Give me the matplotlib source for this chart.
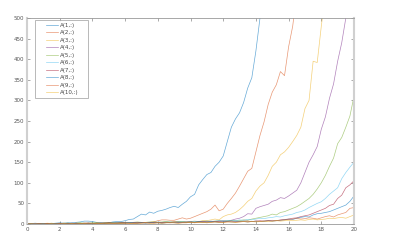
import numpy as np
import matplotlib
matplotlib.use("Agg")
import matplotlib.pyplot as plt

t = np.linspace(0, 20, 81)

A1 = [0, 1, 2, 1, 0, 1, 1, 2, 3, 2, 3, 3, 4, 5, 7, 7, 6, 4, 2, 3, 3, 5, 6, 6,
      8, 11, 12, 18, 24, 22, 29, 26, 31, 33, 36, 40, 43, 40, 48, 55, 66, 72,
      95, 108, 120, 125, 140, 150, 165, 200, 235, 255, 270, 295, 330, 355,
      420, 500, 580]
A2 = [0, 0, 1, 0, 1, 1, 0, 1, 1, 2, 1, 1, 2, 1, 2, 2, 1, 2, 3, 2, 3, 4, 3, 3,
      4, 3, 3, 4, 4, 3, 4, 5, 8, 10, 10, 9, 9, 12, 15, 12, 14, 18, 22, 26, 30,
      36, 46, 32, 36, 50, 62, 75, 92, 110, 128, 135, 175, 215, 248, 290, 320,
      338, 370, 360, 430, 480, 560]
A3 = [0, 1, 0, 1, 1, 2, 1, 1, 2, 1, 2, 1, 2, 2, 1, 2, 2, 3, 2, 2, 3, 3, 2, 3,
      4, 3, 3, 4, 4, 3, 4, 5, 4, 4, 5, 4, 5, 5, 6, 4, 5, 4, 6, 8, 8, 10, 12,
      10, 18, 22, 24, 28, 35, 44, 55, 62, 80, 92, 100, 118, 140, 150, 168,
      175, 186, 200, 215, 235, 280, 300, 395, 392, 480, 560]
A4 = [0, 0, 1, 0, 1, 1, 0, 1, 1, 0, 1, 1, 2, 1, 1, 2, 2, 1, 2, 2, 1, 2, 3, 2,
      2, 3, 3, 2, 3, 3, 4, 3, 3, 4, 4, 3, 4, 5, 4, 4, 5, 5, 6, 5, 6, 7, 6, 7,
      8, 7, 9, 12, 14, 18, 25, 24, 38, 42, 45, 48, 55, 58, 64, 62, 68, 75,
      82, 100, 125, 150, 168, 188, 230, 260, 305, 340, 395, 440, 500, 580]
A5 = [0, 1, 0, 1, 1, 1, 2, 1, 1, 2, 2, 1, 2, 3, 2, 2, 3, 3, 2, 3, 3, 4, 3, 4,
      4, 3, 4, 5, 4, 4, 5, 5, 4, 5, 6, 5, 5, 6, 6, 5, 6, 7, 6, 7, 7, 6, 7, 8,
      7, 8, 9, 8, 8, 10, 9, 12, 14, 16, 18, 20, 24, 22, 28, 30, 34, 38, 42,
      48, 55, 62, 72, 85, 100, 118, 140, 160, 195, 210, 235, 262, 310]
A6 = [0, 0, 1, 0, 1, 1, 1, 0, 1, 1, 2, 1, 1, 2, 2, 1, 2, 2, 3, 2, 2, 3, 3, 2,
      3, 4, 3, 3, 4, 4, 3, 4, 5, 4, 5, 5, 4, 5, 6, 5, 6, 6, 5, 6, 7, 6, 7, 8,
      7, 8, 9, 8, 10, 9, 11, 10, 12, 14, 13, 15, 16, 18, 17, 20, 22, 24, 28,
      30, 34, 40, 45, 50, 54, 62, 72, 80, 88, 110, 125, 138, 150]
A7 = [0, 0, 0, 1, 0, 1, 1, 0, 1, 1, 1, 2, 1, 1, 2, 2, 1, 2, 2, 2, 3, 2, 2, 3,
      3, 2, 3, 3, 4, 3, 3, 4, 4, 3, 4, 4, 5, 4, 4, 5, 5, 4, 5, 6, 5, 5, 6, 6,
      5, 6, 7, 6, 6, 7, 7, 6, 7, 8, 7, 8, 9, 8, 10, 11, 12, 14, 15, 18, 20,
      22, 26, 30, 34, 38, 45, 48, 62, 70, 88, 95, 105]
A8 = [0, 0, 0, 0, 1, 0, 1, 1, 0, 1, 1, 1, 0, 1, 1, 2, 1, 1, 2, 1, 2, 2, 1, 2,
      2, 3, 2, 2, 3, 2, 3, 3, 3, 2, 3, 4, 3, 3, 4, 4, 3, 4, 5, 4, 4, 5, 5, 4,
      5, 6, 5, 5, 6, 6, 5, 6, 7, 6, 7, 8, 7, 8, 9, 10, 12, 11, 14, 16, 18,
      17, 22, 25, 26, 28, 30, 34, 38, 42, 46, 55, 68]
A9 = [0, 0, 0, 0, 0, 1, 0, 0, 1, 0, 1, 1, 0, 1, 1, 1, 0, 1, 1, 2, 1, 1, 2, 1,
      2, 2, 1, 2, 2, 3, 2, 2, 3, 2, 3, 3, 3, 2, 3, 3, 4, 3, 4, 4, 3, 4, 5, 4,
      4, 5, 5, 4, 5, 6, 5, 6, 7, 6, 7, 8, 7, 8, 9, 10, 11, 12, 14, 12, 13, 15,
      14, 12, 15, 18, 20, 17, 22, 25, 28, 38, 40]
A10 = [0, 0, 0, 0, 0, 0, 1, 0, 0, 1, 0, 1, 0, 1, 1, 0, 1, 1, 1, 2, 1, 1, 2, 1,
       2, 2, 1, 2, 2, 3, 2, 2, 3, 2, 3, 3, 3, 2, 3, 3, 4, 3, 4, 4, 3, 4, 5, 4,
       4, 5, 5, 4, 5, 6, 5, 6, 5, 6, 7, 6, 7, 8, 7, 8, 9, 8, 9, 10, 9, 11, 12,
       10, 11, 12, 14, 13, 15, 16, 14, 18, 22]

series = [A1, A2, A3, A4, A5, A6, A7, A8, A9, A10]
labels = ["A(%d,:)" % (i + 1) for i in range(10)]
colors = ["#0072BD", "#D95319", "#EDB120", "#7E2F8E", "#77AC30",
          "#4DBEEE", "#A2142F"]

fig = plt.figure(figsize=(3.94, 2.52), dpi=100)
ax = fig.add_axes([27 / 394, 28 / 252, 327 / 394, 206 / 252])

for i, (v, lab) in enumerate(zip(series, labels)):
    ax.plot(t[:len(v)], v, color=colors[i % 7], lw=0.5, alpha=0.6, label=lab)

ax.set_xlim(0, 20)
ax.set_ylim(0, 500)
ax.set_xticks(np.arange(0, 21, 2))
ax.set_yticks(np.arange(0, 501, 50))
ax.tick_params(direction="in", length=2.5, width=0.5, labelsize=4,
               colors="#888888", labelcolor="#555555", top=True, right=True,
               pad=2)
for s in ["left", "right"]:
    ax.spines[s].set_color("#d0d0d0")
    ax.spines[s].set_linewidth(1.5)
for s in ["top", "bottom"]:
    ax.spines[s].set_color("#999999")
    ax.spines[s].set_linewidth(0.6)

leg = ax.legend(loc="upper left",
                bbox_to_anchor=(8 / 327, 1 - 2 / 206, 53 / 327, 0.0),
                mode="expand",
                fontsize=4, frameon=True, fancybox=False, borderpad=0.5,
                handlelength=3.6, handletextpad=0.4, labelspacing=0.45,
                borderaxespad=0)
leg.get_frame().set_edgecolor("#999999")
leg.get_frame().set_linewidth(0.6)
for txt in leg.get_texts():
    txt.set_color("#444444")
for ln in leg.get_lines():
    xd = np.asarray(ln.get_xdata(), dtype=float)
    if xd.size >= 2:
        ln.set_xdata([xd[0] + 0.4 * (xd[-1] - xd[0]), xd[-1]])
        ln.set_ydata(np.asarray(ln.get_ydata(), dtype=float)[:2])

fig.savefig("out.png", dpi=100)
